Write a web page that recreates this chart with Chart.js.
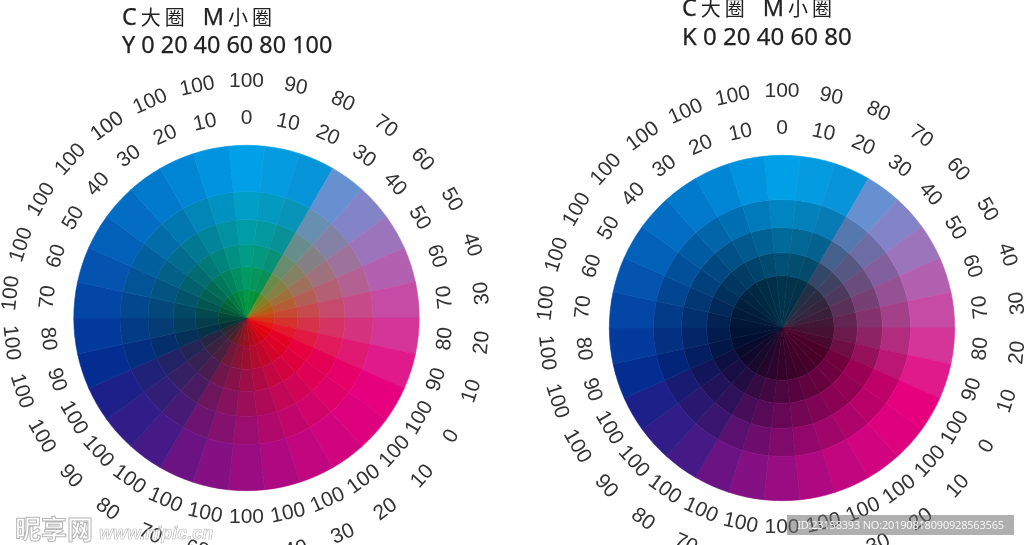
<!DOCTYPE html>
<html>
<head>
<meta charset="utf-8">
<script src="https://cdn.jsdelivr.net/npm/chart.js@4"></script>
<style>
  html, body { margin: 0; padding: 0; background: #fff; overflow: hidden; }
  #page { position: relative; width: 1024px; height: 545px; overflow: hidden; }
  canvas { position: absolute; top: 0; }
  .title { position: absolute; white-space: pre; color: #222; font-family: "Noto Sans", "Noto Sans CJK SC", sans-serif; font-size: 23.4px; line-height: 28px; -webkit-text-stroke: .25px #222; }
  .title .cjk { font-size: 20px; letter-spacing: 4px; margin-left: 4px; -webkit-text-stroke: 0; }
  .title .m { margin-left: 14px; }
  #stamp { position: absolute; left: 787px; top: 515px; width: 227px; height: 20px; background: rgba(110,110,110,.55); color: #f4f4f4; font: 11px/20px "Noto Sans", sans-serif; letter-spacing: -.2px; text-align: center; white-space: nowrap; }
  #mark { position: absolute; left: 15px; top: 513px; color: rgba(255,255,255,.7); -webkit-text-stroke: 1px rgba(130,130,130,.6); font-family: "Noto Sans CJK SC", sans-serif; font-size: 26px; font-weight: 700; line-height: 30px; white-space: nowrap; }
  #mark span { font: italic 700 18px/30px "Liberation Sans", sans-serif; -webkit-text-stroke: .6px rgba(130,130,130,.6); margin-left: 6px; }
</style>
</head>
<body>
<div id="page">
  <canvas id="wheelY" width="512" height="545" style="left:0"></canvas>
  <canvas id="wheelK" width="512" height="545" style="left:512px"></canvas>
  <div class="title" style="left:122px;top:2px">C<span class="cjk">大圈</span><span class="m">M</span><span class="cjk">小圈</span></div>
  <div class="title" style="left:122px;top:30px">Y 0 20 40 60 80 100</div>
  <div class="title" style="left:682px;top:-7px">C<span class="cjk">大圈</span><span class="m">M</span><span class="cjk">小圈</span></div>
  <div class="title" style="left:682px;top:22px;font-size:24px">K 0 20 40 60 80</div>
  <div id="mark">昵享网<span>www.nipic.cn</span></div>
  <div id="stamp">ID:23158393 NO:20190818090928563565</div>
</div>
<script>
// one slice per 10% step, clockwise from the top
const sectorShare = [1,1,1,1,1,1,1,1,1,1,1,1,1,1,1,1,1,1,1,1,1,1,1,1,1,1,1,1,1,1];
const cyanValues = [100,90,80,70,60,50,40,30,20,10,0,10,20,30,40,50,60,70,80,90,100,100,100,100,100,100,100,100,100,100];
const magentaValues = [0,10,20,30,40,50,60,70,80,90,100,100,100,100,100,100,100,100,100,100,100,90,80,70,60,50,40,30,20,10];
const yellowLevels = [0,20,40,60,80,100];
const blackLevels = [0,20,40,60,80];

// ring thickness, outer ring first
const yellowRingWidths = [46,28,25,22,23,28];
const blackRingWidths = [44,28,25,23,52];

// solid ink overprints, rgb
const inks = {
  w: [255,255,255], c: [0,160,233], m: [230,0,126], y: [255,241,0],
  cm: [29,32,136], cy: [0,153,68], my: [230,0,18], cmy: [40,40,50]
};

function inkColor(c, m, y, k) {
  c /= 100; m /= 100; y /= 100; k /= 100;
  const heavyCyan = c >= 0.8 && m < 1;
  if (c < 0.8) c = Math.pow(c, 1.4);
  const parts = [
    [inks.w, (1-c)*(1-m)*(1-y)], [inks.c, c*(1-m)*(1-y)], [inks.m, (1-c)*m*(1-y)], [inks.y, (1-c)*(1-m)*y],
    [inks.cm, c*m*(1-y)], [inks.cy, c*(1-m)*y], [inks.my, (1-c)*m*y], [inks.cmy, c*m*y]
  ];
  const rgb = [0,1,2].map(i => parts.reduce((sum, p) => sum + p[0][i]*p[1], 0) * (1 - 0.84*k));
  if (heavyCyan) rgb[0] *= 0.15; // red clips to nothing under heavy cyan
  return 'rgb(' + rgb.map(Math.round).join(',') + ')';
}

const ringLabels = {
  id: 'ringLabels',
  afterDraw(chart) {
    const ctx = chart.ctx;
    const arcs = chart.getDatasetMeta(0).data;
    const cx = arcs[0].x, cy = arcs[0].y, r = arcs[0].outerRadius;
    ctx.save();
    ctx.font = '21px "Liberation Sans", Arial, sans-serif';
    ctx.fillStyle = '#333';
    ctx.textAlign = 'center';
    ctx.textBaseline = 'middle';
    arcs.forEach((arc, i) => {
      const a = (arc.startAngle + arc.endAngle) / 2;
      const up = i >= 7 && i <= 22;
      [[cyanValues[i], 64], [magentaValues[i], 27]].forEach(([text, gap]) => {
        ctx.save();
        ctx.translate(cx + Math.cos(a)*(r+gap), cy + Math.sin(a)*(r+gap));
        ctx.rotate(a + Math.PI/2 + (up ? Math.PI : 0));
        ctx.fillText(String(text), 0, 0);
        ctx.restore();
      });
    });
    ctx.restore();
  }
};

function makeWheel(id, levels, widths, color, padding) {
  const datasets = levels.map((level, n) => {
    const colors = sectorShare.map((s, i) => color(cyanValues[i], magentaValues[i], level));
    return {
      data: sectorShare,
      weight: widths[n],
      backgroundColor: colors,
      borderColor: colors,
      borderWidth: 0.6
    };
  });
  return new Chart(document.getElementById(id), {
    type: 'doughnut',
    data: { labels: cyanValues.map(String), datasets: datasets },
    options: {
      responsive: false,
      animation: false,
      cutout: 0,
      rotation: -6,
      layout: { padding: padding },
      plugins: { legend: { display: false }, tooltip: { enabled: false } }
    },
    plugins: [ringLabels]
  });
}

makeWheel('wheelY', yellowLevels, yellowRingWidths, (c, m, y) => inkColor(c, m, y, 0),
  { left: 73, right: 92, top: 145, bottom: 54 });
makeWheel('wheelK', blackLevels, blackRingWidths, (c, m, k) => inkColor(c, m, 0, k),
  { left: 97, right: 69, top: 155, bottom: 44 });
</script>
</body>
</html>
